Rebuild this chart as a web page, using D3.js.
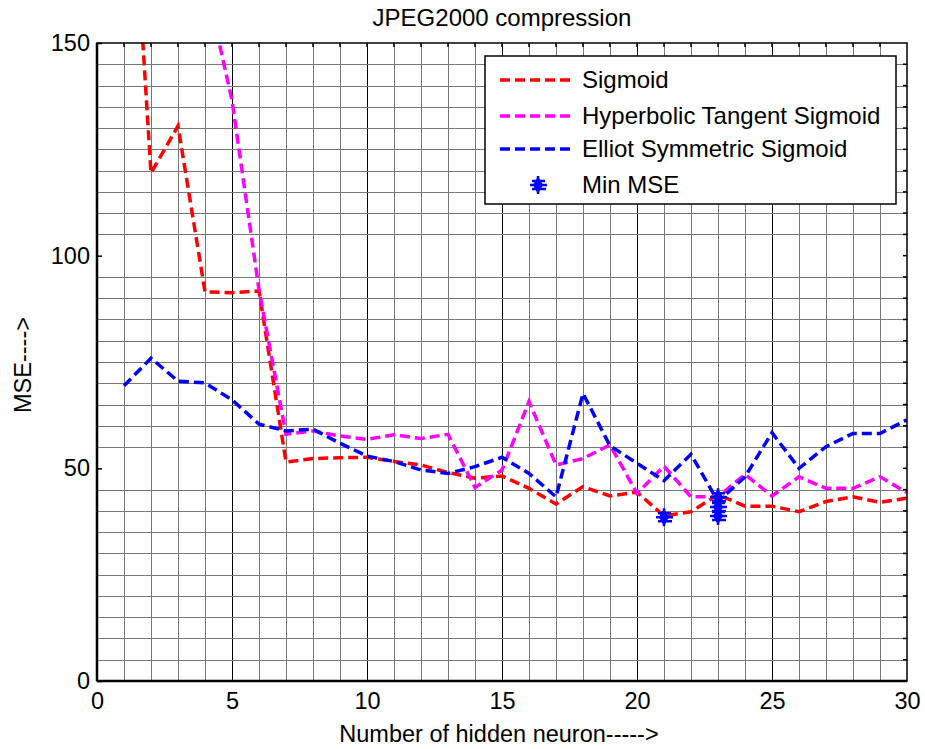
<!DOCTYPE html>
<html>
<head>
<meta charset="utf-8">
<script src="https://cdn.jsdelivr.net/npm/d3@7"></script>
<style>
  body { margin: 0; background: #fff; }
  text { font-family: "Liberation Sans", Arial, sans-serif; }
</style>
</head>
<body>
<div id="chart"></div>
<script>
// Data
const neurons = [1, 2, 3, 4, 5, 6, 7, 8, 9, 10, 11, 12, 13, 14, 15,
  16, 17, 18, 19, 20, 21, 22, 23, 24, 25, 26, 27, 28, 29, 30];
const sigmoid = [221, 119.4, 130.5, 91.5, 91.3, 91.7, 51.5, 52.3, 52.5, 52.6, 51.6, 50.8, 49, 47.7, 48.2,
  45.3, 41.6, 45.7, 43.5, 44.4, 38.8, 39.8, 43.8, 41.1, 41.1, 39.8, 42.2, 43.3, 42, 43];
const tansig = [260, 230, 200, 165, 136.5, 92, 58, 58.8, 57.6, 56.8, 57.9, 57, 58, 45.5, 49.6,
  65.7, 50.8, 52.3, 55.5, 44.1, 50.5, 43.3, 43.3, 48.6, 43.5, 48, 45.3, 45.3, 48, 44.3];
const elliot = [69.4, 75.9, 70.5, 70.1, 66.1, 60.4, 58.8, 59.2, 55.9, 52.9, 51.6, 49.6, 48.8, 50.4, 52.6,
  48.8, 43.3, 67.6, 55.3, 51.2, 47.1, 53.3, 42.2, 48, 58.4, 50, 55.1, 58.2, 58.2, 61.4];
const minX = [21, 23, 23, 23];
const minY = [38.5, 43.2, 40.9, 38.8];

const xTicks = [0, 5, 10, 15, 20, 25, 30];
const yTicks = [0, 50, 100, 150];
const seriesNames = ["Sigmoid", "Hyperbolic Tangent Sigmoid", "Elliot Symmetric Sigmoid"];
const seriesColors = ["#ff0000", "#ff00ff", "#0000ff"];

const WIDTH = 925;
const HEIGHT = 749;
const margin = { top: 43, right: 18, bottom: 68, left: 97 };
const plotW = WIDTH - margin.left - margin.right;
const plotH = HEIGHT - margin.top - margin.bottom;
const FONT = 23.5;

const svg = d3.select("#chart").append("svg")
  .attr("width", WIDTH)
  .attr("height", HEIGHT);

const x = d3.scaleLinear().domain([0, 30]).range([0, plotW]);
const y = d3.scaleLinear().domain([0, 150]).range([plotH, 0]);

svg.append("defs").append("clipPath").attr("id", "plot-clip")
  .append("rect").attr("width", plotW).attr("height", plotH);

const g = svg.append("g").attr("transform", `translate(${margin.left},${margin.top})`);

// Grid: a line every unit across, every 5 up; the 50/100 rows are not drawn in the original
const grid = g.append("g").attr("transform", "translate(0.5,0.5)").attr("shape-rendering", "crispEdges");
grid.append("g").selectAll("line")
  .data(d3.range(1, 30))
  .join("line")
  .attr("x1", d => x(d)).attr("x2", d => x(d))
  .attr("y1", 0).attr("y2", plotH)
  .attr("stroke", d => d % 5 === 0 ? "#000" : "#777")
  .attr("stroke-width", 1);

const hGrid = d3.range(5, 150, 5).filter(d => d % 50 !== 0);
grid.append("g").selectAll("line")
  .data(hGrid)
  .join("line")
  .attr("x1", 0).attr("x2", plotW)
  .attr("y1", d => Math.round(y(d))).attr("y2", d => Math.round(y(d)))
  .attr("stroke", "#777")
  .attr("stroke-width", 1);

// Series
const line = d3.line()
  .x((d, i) => x(neurons[i]))
  .y(d => y(d));

const lines = g.append("g").attr("clip-path", "url(#plot-clip)");
[sigmoid, tansig, elliot].forEach((vals, k) => {
  lines.append("path")
    .datum(vals)
    .attr("d", line)
    .attr("fill", "none")
    .attr("stroke", seriesColors[k])
    .attr("stroke-width", 3.5)
    .attr("stroke-dasharray", "10,5");
});

// Min MSE marker: filled diamond with short arms
function minMarker(sel) {
  sel.append("path")
    .attr("d", d3.symbol().type(d3.symbolDiamond).size(90)())
    .attr("fill", "#0000ff");
  sel.append("path")
    .attr("d", "M-8,0H9M0,-9V9M-6,4H8M-6,-4H7")
    .attr("stroke", "#0000ff")
    .attr("stroke-width", 2.5);
}

g.append("g").selectAll("g")
  .data(minX)
  .join("g")
  .attr("transform", (d, i) => `translate(${x(d)},${y(minY[i])})`)
  .call(minMarker);

// Axes
const xAxis = d3.axisBottom(x).tickValues(xTicks).tickSizeInner(0).tickSizeOuter(0).tickPadding(11);
const yAxis = d3.axisLeft(y).tickValues(yTicks).tickSizeInner(-5).tickSizeOuter(0).tickPadding(7);

const gx = g.append("g").attr("transform", `translate(0,${plotH})`).call(xAxis);
const gy = g.append("g").call(yAxis);
[gx, gy].forEach(a => {
  a.select(".domain").remove();
  a.selectAll("text").attr("font-size", FONT).attr("fill", "#000")
    .attr("font-family", "'Liberation Sans', Arial, sans-serif");
  a.selectAll(".tick line").attr("stroke", "#000").attr("stroke-width", 1.5);
});

// Small ticks on top (each unit) and right (every 5)
g.append("g").selectAll("line")
  .data(d3.range(1, 30))
  .join("line")
  .attr("x1", d => x(d)).attr("x2", d => x(d))
  .attr("y1", 0).attr("y2", 4)
  .attr("stroke", "#000").attr("stroke-width", 1.5);

g.append("g").selectAll("line")
  .data(d3.range(5, 150, 5))
  .join("line")
  .attr("x1", plotW - 4).attr("x2", plotW)
  .attr("y1", d => y(d)).attr("y2", d => y(d))
  .attr("stroke", "#000").attr("stroke-width", 1.5);

// Frame
g.append("rect")
  .attr("width", plotW).attr("height", plotH)
  .attr("fill", "none").attr("stroke", "#000").attr("stroke-width", 1.5);
g.append("line").attr("x1", 0).attr("x2", 0).attr("y1", 0).attr("y2", plotH)
  .attr("stroke", "#000").attr("stroke-width", 2.5);
g.append("line").attr("x1", 0).attr("x2", plotW).attr("y1", plotH).attr("y2", plotH)
  .attr("stroke", "#000").attr("stroke-width", 2.5);

// Titles
svg.append("text")
  .attr("x", margin.left + plotW / 2).attr("y", 26)
  .attr("text-anchor", "middle")
  .attr("font-size", 24)
  .text("JPEG2000 compression");

svg.append("text")
  .attr("x", margin.left + plotW / 2 - 3).attr("y", 742)
  .attr("text-anchor", "middle")
  .attr("font-size", FONT)
  .text("Number of hidden neuron----->");

svg.append("text")
  .attr("transform", `translate(31,${margin.top + plotH / 2 + 3}) rotate(-90)`)
  .attr("text-anchor", "middle")
  .attr("font-size", FONT)
  .text("MSE---->");

// Legend
const legend = svg.append("g").attr("transform", "translate(485,56)");
legend.append("rect")
  .attr("width", 411).attr("height", 148)
  .attr("fill", "#fff").attr("stroke", "#000").attr("stroke-width", 1.5);

const rowY = [24, 60, 93, 129];
seriesNames.forEach((name, k) => {
  legend.append("line")
    .attr("x1", 15).attr("x2", 85)
    .attr("y1", rowY[k]).attr("y2", rowY[k])
    .attr("stroke", seriesColors[k])
    .attr("stroke-width", 3.5)
    .attr("stroke-dasharray", "10,5");
  legend.append("text")
    .attr("x", 97).attr("y", rowY[k] + 8)
    .attr("font-size", 24)
    .text(name);
});
legend.append("g")
  .attr("transform", `translate(53,${rowY[3]})`)
  .call(minMarker);
legend.append("text")
  .attr("x", 97).attr("y", rowY[3] + 8)
  .attr("font-size", 24)
  .text("Min MSE");
</script>
</body>
</html>
